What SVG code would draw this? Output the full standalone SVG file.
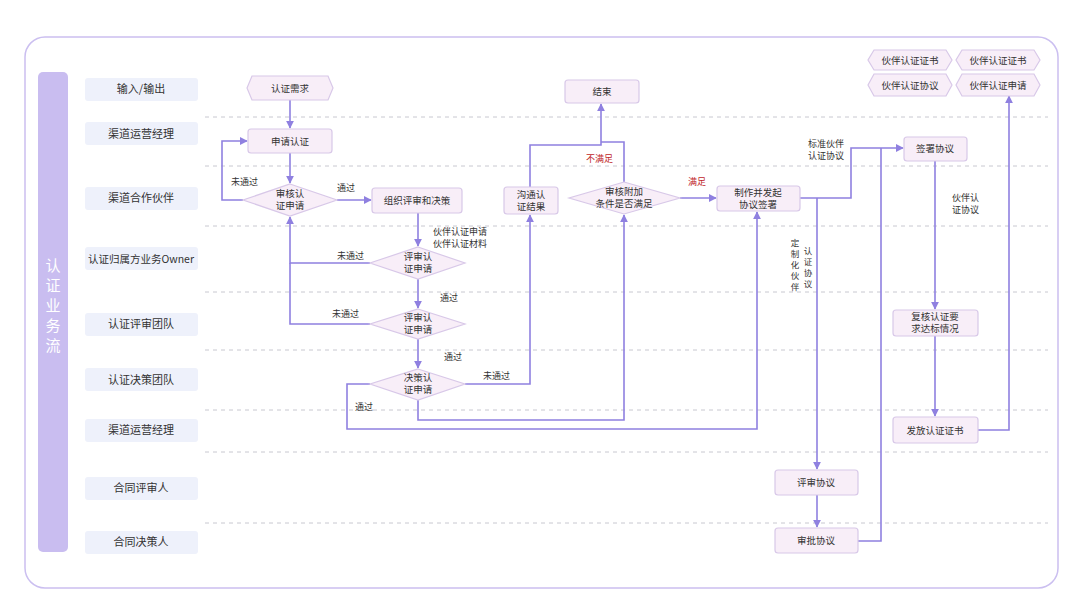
<svg xmlns="http://www.w3.org/2000/svg" width="1080" height="608" viewBox="0 0 1080 608">
<defs>
<marker id="ar" viewBox="0 0 10 10" refX="9" refY="5" markerWidth="5" markerHeight="5" orient="auto"><path d="M0,0L10,5L0,10z" fill="#8f80e0"/></marker>
<style>
text{font-family:"Noto Sans CJK SC","Noto Sans",sans-serif;fill:#333;}
.n{fill:#f8eef8;stroke:#d8c8e8;stroke-width:1.2;}
.t{font-size:9.5px;text-anchor:middle;}
.l{font-size:9px;}
.v{font-size:8.5px;text-anchor:middle;}
.b{font-size:15px;text-anchor:middle;fill:#fff;}
.r{font-size:9px;fill:#c0262a;}
.lane{fill:#eef1fb;}
.lt{font-size:11px;text-anchor:middle;fill:#333;}
.d{stroke:#c8c8d0;stroke-dasharray:4 4;stroke-width:1;}
.c{fill:none;stroke:#8f80e0;stroke-width:1.6;}
.ca{fill:none;stroke:#8f80e0;stroke-width:1.6;marker-end:url(#ar);}
</style>
</defs>
<rect width="1080" height="608" fill="#fff"/>
<rect x="25" y="37" width="1033" height="551" rx="20" fill="none" stroke="#cbbff0" stroke-width="1.5"/>
<rect x="38" y="72" width="30" height="480" rx="5" fill="#c9bdf0"/>
<text class="b" x="53" y="271">认</text><text class="b" x="53" y="291">证</text><text class="b" x="53" y="311">业</text><text class="b" x="53" y="331">务</text><text class="b" x="53" y="351">流</text>
<g id="lanes">
<rect class="lane" x="85" y="78" width="113" height="23" rx="3"/><text class="lt" x="141" y="93">输入/输出</text>
<rect class="lane" x="85" y="122" width="113" height="23" rx="3"/><text class="lt" x="141" y="138">渠道运营经理</text>
<rect class="lane" x="85" y="187" width="113" height="23" rx="3"/><text class="lt" x="141" y="202">渠道合作伙伴</text>
<rect class="lane" x="85" y="247" width="113" height="23" rx="3"/><text class="lt" x="141" y="263" style="font-size:10.5px">认证归属方业务Owner</text>
<rect class="lane" x="85" y="313" width="113" height="23" rx="3"/><text class="lt" x="141" y="328">认证评审团队</text>
<rect class="lane" x="85" y="368" width="113" height="23" rx="3"/><text class="lt" x="141" y="384">认证决策团队</text>
<rect class="lane" x="85" y="419" width="113" height="23" rx="3"/><text class="lt" x="141" y="434">渠道运营经理</text>
<rect class="lane" x="85" y="477" width="113" height="23" rx="3"/><text class="lt" x="141" y="492">合同评审人</text>
<rect class="lane" x="85" y="531" width="113" height="23" rx="3"/><text class="lt" x="141" y="546">合同决策人</text>
</g>
<g id="dividers">
<line class="d" x1="205" y1="117" x2="1048" y2="117"/>
<line class="d" x1="205" y1="166" x2="1048" y2="166"/>
<line class="d" x1="205" y1="226" x2="1048" y2="226"/>
<line class="d" x1="205" y1="292" x2="1048" y2="292"/>
<line class="d" x1="205" y1="350" x2="1048" y2="350"/>
<line class="d" x1="205" y1="410" x2="1048" y2="410"/>
<line class="d" x1="205" y1="452" x2="1048" y2="452"/>
<line class="d" x1="205" y1="523" x2="1048" y2="523"/>
</g>
<g id="connectors">
<path class="ca" d="M290,100V128"/>
<path class="ca" d="M290,153V183"/>
<path class="ca" d="M243,200H222V141H247"/>
<path class="ca" d="M337,200H371"/>
<path class="ca" d="M418,213V246"/>
<path class="ca" d="M370,263H290V217"/>
<path class="ca" d="M418,279V308"/>
<path class="c" d="M370,324H290V263"/>
<path class="ca" d="M418,339V368"/>
<path class="ca" d="M465,384H530V215"/>
<path class="ca" d="M370,384H347V429H757V212"/>
<path class="ca" d="M418,400V420H624V215"/>
<path class="ca" d="M530,187V145H601V104"/>
<path class="c" d="M624,182V142H601"/>
<path class="ca" d="M680,198H716"/>
<path class="ca" d="M800,198H851V148H903"/>
<path class="ca" d="M817,198V469"/>
<path class="ca" d="M817,495V527"/>
<path class="c" d="M858,541H881V148"/>
<path class="ca" d="M935,161V309"/>
<path class="ca" d="M935,336V416"/>
<path class="ca" d="M978,430H1009V96"/>
</g>
<g id="labels">
<text class="l" x="231" y="185">未通过</text>
<text class="l" x="337" y="191">通过</text>
<text class="l" x="433" y="235">伙伴认证申请</text>
<text class="l" x="433" y="247">伙伴认证材料</text>
<text class="l" x="337" y="259">未通过</text>
<text class="l" x="440" y="301">通过</text>
<text class="l" x="332" y="317">未通过</text>
<text class="l" x="444" y="360">通过</text>
<text class="l" x="483" y="379">未通过</text>
<text class="l" x="355" y="410">通过</text>
<text class="r" x="586" y="162">不满足</text>
<text class="r" x="688" y="185">满足</text>
<text class="l" x="808" y="147">标准伙伴</text>
<text class="l" x="808" y="159">认证协议</text>
<text class="l" x="952" y="201">伙伴认</text>
<text class="l" x="952" y="213">证协议</text>
<text class="v" x="795" y="246">定</text><text class="v" x="795" y="257">制</text><text class="v" x="795" y="268">化</text><text class="v" x="795" y="279">伙</text><text class="v" x="795" y="290">伴</text>
<text class="v" x="808" y="254">认</text><text class="v" x="808" y="265">证</text><text class="v" x="808" y="276">协</text><text class="v" x="808" y="287">议</text>
</g>
<g id="n-need"><polygon class="n" points="252,76 328,76 333,88 328,100 252,100 247,88"/><text class="t" x="290" y="92">认证需求</text></g>
<g id="n-apply"><rect class="n" x="248" y="129" width="84" height="24" rx="3"/><text class="t" x="290" y="145">申请认证</text></g>
<g id="n-check"><polygon class="n" points="290,184 337,200 290,216 243,200"/><text class="t" x="290" y="197">审核认</text><text class="t" x="290" y="209">证申请</text></g>
<g id="n-org"><rect class="n" x="372" y="188" width="90" height="25" rx="3"/><text class="t" x="417" y="204">组织评审和决策</text></g>
<g id="n-rev1"><polygon class="n" points="418,247 465,263 418,279 370,263"/><text class="t" x="418" y="260">评审认</text><text class="t" x="418" y="272">证申请</text></g>
<g id="n-rev2"><polygon class="n" points="418,309 465,324 418,339 370,324"/><text class="t" x="418" y="321">评审认</text><text class="t" x="418" y="333">证申请</text></g>
<g id="n-dec"><polygon class="n" points="418,369 465,384 418,400 370,384"/><text class="t" x="418" y="381">决策认</text><text class="t" x="418" y="393">证申请</text></g>
<g id="n-comm"><rect class="n" x="504" y="187" width="54" height="27" rx="3"/><text class="t" x="531" y="198">沟通认</text><text class="t" x="531" y="210">证结果</text></g>
<g id="n-end"><rect class="n" x="565" y="80" width="74" height="23" rx="3"/><text class="t" x="602" y="95">结束</text></g>
<g id="n-cond"><polygon class="n" points="624,182 680,198 624,214 569,198"/><text class="t" x="624" y="195">审核附加</text><text class="t" x="624" y="207">条件是否满足</text></g>
<g id="n-make"><rect class="n" x="717" y="186" width="83" height="25" rx="3"/><text class="t" x="758" y="196">制作并发起</text><text class="t" x="758" y="208">协议签署</text></g>
<g id="n-sign"><rect class="n" x="904" y="137" width="63" height="24" rx="3"/><text class="t" x="935" y="152">签署协议</text></g>
<g id="n-recheck"><rect class="n" x="893" y="310" width="85" height="26" rx="3"/><text class="t" x="935" y="320">复核认证要</text><text class="t" x="935" y="332">求达标情况</text></g>
<g id="n-issue"><rect class="n" x="893" y="417" width="85" height="26" rx="3"/><text class="t" x="935" y="434">发放认证证书</text></g>
<g id="n-crev"><rect class="n" x="775" y="470" width="83" height="25" rx="3"/><text class="t" x="816" y="486">评审协议</text></g>
<g id="n-capp"><rect class="n" x="775" y="528" width="83" height="25" rx="3"/><text class="t" x="816" y="544">审批协议</text></g>
<g id="n-out1"><polygon class="n" points="874,50 946,50 952,60 946,70 874,70 868,60"/><text class="t" x="910" y="64">伙伴认证证书</text></g>
<g id="n-out2"><polygon class="n" points="962,50 1034,50 1040,60 1034,70 962,70 956,60"/><text class="t" x="998" y="64">伙伴认证证书</text></g>
<g id="n-out3"><polygon class="n" points="874,74 946,74 952,85 946,96 874,96 868,85"/><text class="t" x="910" y="89">伙伴认证协议</text></g>
<g id="n-out4"><polygon class="n" points="962,74 1034,74 1040,85 1034,96 962,96 956,85"/><text class="t" x="998" y="89">伙伴认证申请</text></g>
</svg>
